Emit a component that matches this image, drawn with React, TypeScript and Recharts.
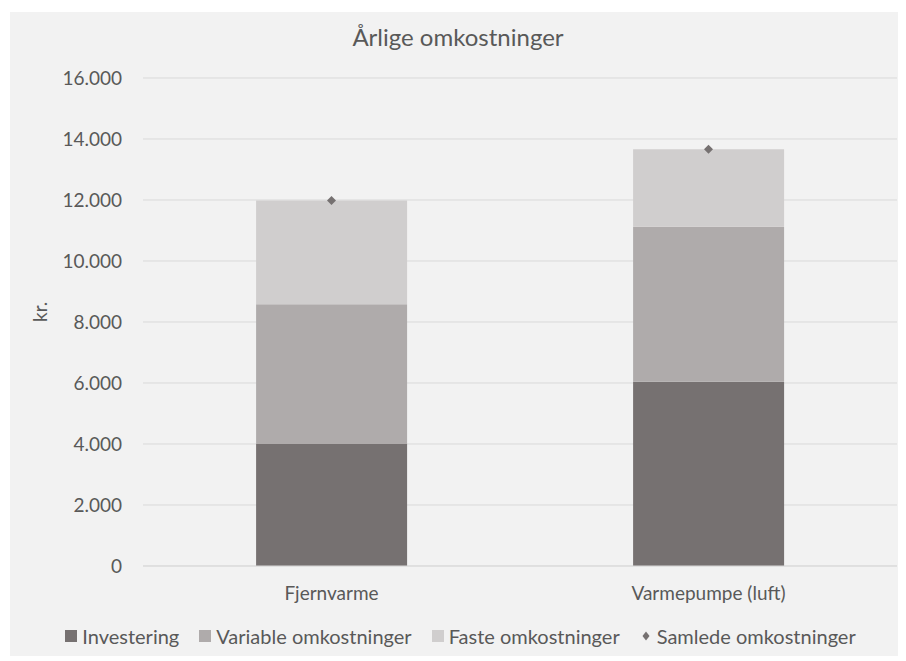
import React from 'react';
import { ComposedChart, Bar, Line, XAxis, YAxis, CartesianGrid, Legend } from 'recharts';

const categories = ['Fjernvarme', 'Varmepumpe (luft)'];
const investering = [4000, 6040];
const variable = [4580, 5085];
const faste = [3400, 2540];
const samlede = [11980, 13665];
const yTicks = [0, 2000, 4000, 6000, 8000, 10000, 12000, 14000, 16000];

const colors = {
  investering: '#767171',
  variable: '#AFABAB',
  faste: '#D0CECE',
  samlede: '#767171',
};

const data = categories.map((name, i) => ({
  name,
  investering: investering[i],
  variable: variable[i],
  faste: faste[i],
  samlede: samlede[i],
}));

const fmt = (v: number) => String(v).replace(/\B(?=(\d{3})+(?!\d))/g, '.');

const Diamond = (props: any) => {
  const { cx, cy } = props;
  if (cx == null || cy == null) return null;
  const r = 4.5;
  return <path key={`d-${cx}`} d={`M${cx},${cy - r}L${cx + r},${cy}L${cx},${cy + r}L${cx - r},${cy}Z`} fill={colors.samlede} />;
};

const legendItems = [
  { label: 'Investering', color: colors.investering, diamond: false },
  { label: 'Variable omkostninger', color: colors.variable, diamond: false },
  { label: 'Faste omkostninger', color: colors.faste, diamond: false },
  { label: 'Samlede omkostninger', color: colors.samlede, diamond: true },
];

const LegendContent = () => (
  <div style={{ display: 'flex', justifyContent: 'center', alignItems: 'center', height: 24, fontSize: 20, color: '#595959', paddingLeft: 14 }}>
    {legendItems.map((it) => (
      <span key={it.label} style={{ display: 'flex', alignItems: 'center', margin: '0 10px' }}>
        {it.diamond ? (
          <svg width={12} height={12} style={{ marginRight: 5 }}>
            <path d="M6,1.5L9.5,6L6,10.5L2.5,6Z" fill={it.color} />
          </svg>
        ) : (
          <span style={{ display: 'inline-block', width: 12, height: 12, background: it.color, marginRight: 5 }} />
        )}
        {it.label}
      </span>
    ))}
  </div>
);

const App: React.FC = () => {
  return (
    <div style={{ position: 'relative', top: 4, left: 2, width: 896, height: 648, background: '#F2F2F2', fontFamily: 'Lato' }}>
      <div style={{ position: 'absolute', top: 10, left: 0, width: '100%', textAlign: 'center', fontSize: 24, color: '#595959' }}>
        Årlige omkostninger
      </div>
      <ComposedChart width={896} height={648} data={data} margin={{ top: 66, right: 9, left: 0, bottom: 12 }} barCategoryGap="30%">
        <CartesianGrid vertical={false} stroke="#D9D9D9" />
        <XAxis
          dataKey="name"
          axisLine={{ stroke: '#D9D9D9' }}
          tickLine={false}
          tickMargin={15}
          height={58}
          tick={{ fill: '#595959', fontSize: 19 }}
        />
        <YAxis
          width={133}
          domain={[0, 16000]}
          ticks={yTicks}
          tickFormatter={fmt}
          axisLine={false}
          tickLine={false}
          tickMargin={15}
          tick={{ fill: '#595959', fontSize: 19 }}
          label={{ value: 'kr.', angle: -90, position: 'insideLeft', offset: 30, fill: '#595959', fontSize: 19 }}
        />
        <Legend verticalAlign="bottom" content={LegendContent} />
        <Bar dataKey="investering" name="Investering" stackId="a" fill={colors.investering} isAnimationActive={false} />
        <Bar dataKey="variable" name="Variable omkostninger" stackId="a" fill={colors.variable} isAnimationActive={false} />
        <Bar dataKey="faste" name="Faste omkostninger" stackId="a" fill={colors.faste} isAnimationActive={false} />
        <Line dataKey="samlede" name="Samlede omkostninger" stroke="none" dot={Diamond} activeDot={false} isAnimationActive={false} />
      </ComposedChart>
    </div>
  );
};

export default App;
